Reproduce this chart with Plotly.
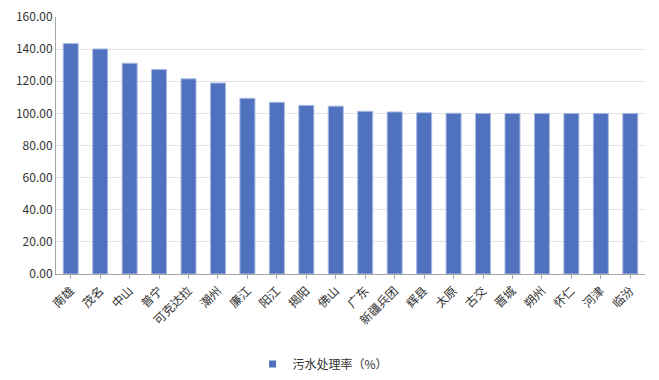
import plotly.graph_objects as go

categories = ["南雄", "茂名", "中山", "普宁", "可克达拉", "潮州", "廉江", "阳江", "揭阳", "佛山",
              "广东", "新疆兵团", "辉县", "太原", "古交", "晋城", "朔州", "怀仁", "河津", "临汾"]
values = [143.5, 140.1, 131.2, 127.4, 121.5, 118.9, 109.4, 106.9, 105.0, 104.5,
          101.3, 100.9, 100.4, 100.1, 100.0, 100.0, 100.0, 100.0, 100.0, 100.0]
series_name = "污水处理率（%）"
tick_vals = [0, 20, 40, 60, 80, 100, 120, 140, 160]

font = "Noto Sans CJK SC, Liberation Sans, sans-serif"
bar_color = "#4F71BE"
text_color = "#333333"

fig = go.Figure()
fig.add_trace(go.Bar(
    x=categories, y=values, name=series_name,
    marker=dict(color=bar_color, line=dict(color="#A9BAE3", width=1)),
    showlegend=False,
))
# legend entry with a small square swatch
fig.add_trace(go.Scatter(
    x=[None], y=[None], mode="markers", name=series_name,
    marker=dict(symbol="square", size=7, color=bar_color),
    showlegend=True,
))
fig.update_layout(
    width=643, height=364,
    margin=dict(l=48, r=6, t=9, b=98, autoexpand=False),
    paper_bgcolor="white", plot_bgcolor="white",
    font=dict(family=font, size=12, color=text_color),
    bargap=0.49,
    showlegend=True,
    legend=dict(orientation="h", xref="container", yref="container",
                x=0.49, xanchor="center", y=0.022, yanchor="middle",
                itemwidth=30, font=dict(size=12, color=text_color)),
    xaxis=dict(
        tickangle=-45, showline=True, linecolor="#A6A6A6", linewidth=1,
        ticks="outside", ticklen=4, tickcolor="#A6A6A6",
        tickfont=dict(size=12, color=text_color), showgrid=False,
        automargin=False, ticklabeloverflow="allow",
    ),
    yaxis=dict(
        range=[0, 160.01], tickvals=tick_vals, tickformat=".2f",
        showline=True, linecolor="#A6A6A6", linewidth=1,
        showgrid=True, gridcolor="#E3E3E3", gridwidth=1,
        ticks="", tickfont=dict(size=12, color=text_color), zeroline=False,
        automargin=False, ticklabeloverflow="allow",
    ),
)
fig.write_html("out.html")
